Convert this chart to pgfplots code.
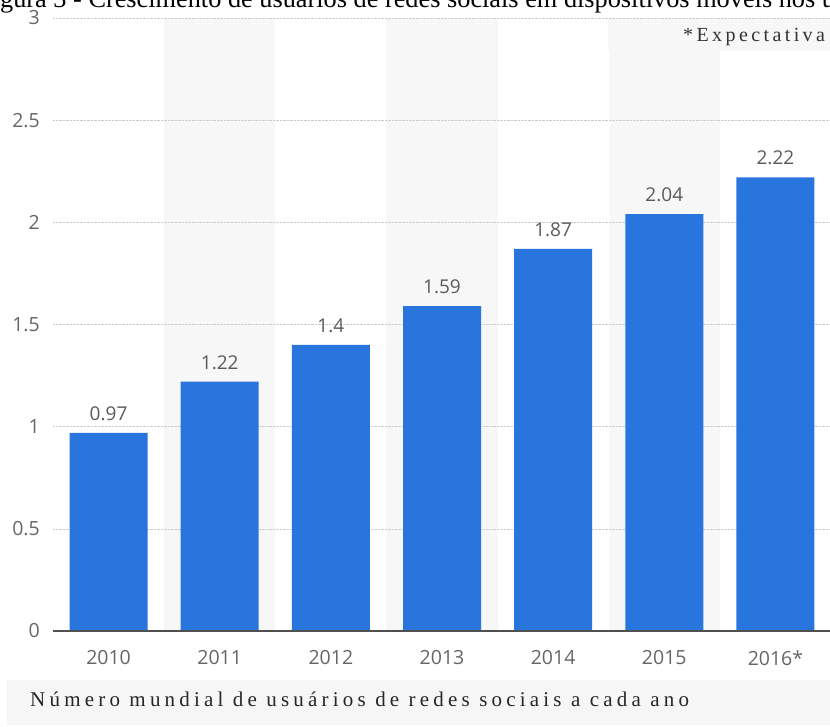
\documentclass[border=0pt]{standalone}
\usepackage{fontspec}
\setmainfont{Liberation Serif}
\newfontfamily\labelfont{Open Sans}
\usepackage{pgfplots}
\pgfplotsset{compat=1.18}
\definecolor{barblue}{HTML}{2876DD}
\definecolor{band}{HTML}{F7F7F7}
\definecolor{boxgray}{HTML}{F6F6F6}
\definecolor{lbl}{HTML}{5A5A5A}
\definecolor{ticklbl}{HTML}{666666}
\definecolor{axisline}{HTML}{505050}
\begin{document}
\begin{tikzpicture}[x=1pt,y=1pt]
\begin{scope}
\clip (0,0) rectangle (830,727);
\fill[white] (0,0) rectangle (830,727);
\fill[boxgray] (7,2) rectangle (830,47);
\fill[band] (164.1,96) rectangle (275.3,709);
\fill[band] (386.4,96) rectangle (497.6,709);
\fill[band] (608.7,96) rectangle (719.9,709);
\fill[band] (608,676) rectangle (830,709);
\node[anchor=base west, inner sep=0pt, font=\fontsize{26.3}{30}\selectfont, text=black] at (-22,719.5) {Figura 3 - Crescimento de usuários de redes sociais em dispositivos móveis nos últimos anos};
\node[anchor=base west, inner sep=0pt, font=\fontsize{21}{24}\selectfont\addfontfeature{LetterSpace=20}, text=black!85] at (30,20) {Número mundial de usuários de redes sociais a cada ano};
\node[anchor=base west, inner sep=0pt, font=\fontsize{20}{24}\selectfont\addfontfeature{LetterSpace=17}, text=black!80] at (683,685) {*Expectativa};
\end{scope}
\begin{axis}[
  scale only axis,
  width=778pt, height=613pt,
  anchor=south west, at={(53pt,96pt)},
  xmin=-0.5, xmax=6.5, ymin=0, ymax=3,
  ybar, bar width=78pt,
  axis line style={draw=none},
  major tick length=0pt,
  xtick={0,1,2,3,4,5,6},
  xticklabels={2010,2011,2012,2013,2014,2015,2016*},
  ytick={0,0.5,1,1.5,2,2.5,3},
  yticklabels={0,0.5,1,1.5,2,2.5,3},
  tick label style={font=\labelfont\fontsize{19.5}{22}\selectfont, text=ticklbl, inner sep=0pt},
  xticklabel style={anchor=north, yshift=-19pt},
  yticklabel style={anchor=east, xshift=-13pt},
  ymajorgrids,
  major grid style={densely dotted, draw=gray!40, line width=0.6pt},
  clip=false,
]
\addplot[fill=barblue, draw=none,
  nodes near coords,
  every node near coord/.append style={font=\labelfont\fontsize{19}{22}\selectfont, text=lbl, anchor=south, inner sep=0pt, yshift=12pt, /pgf/number format/assume math mode=true},
] coordinates {(0,0.97) (1,1.22) (2,1.4) (3,1.59) (4,1.87) (5,2.04) (6,2.22)};
\draw[line width=2pt, axisline] (axis cs:-0.5,0) -- (axis cs:6.5,0);
\end{axis}
\pgfresetboundingbox
\useasboundingbox (0,0) rectangle (830,727);
\end{tikzpicture}
\end{document}
